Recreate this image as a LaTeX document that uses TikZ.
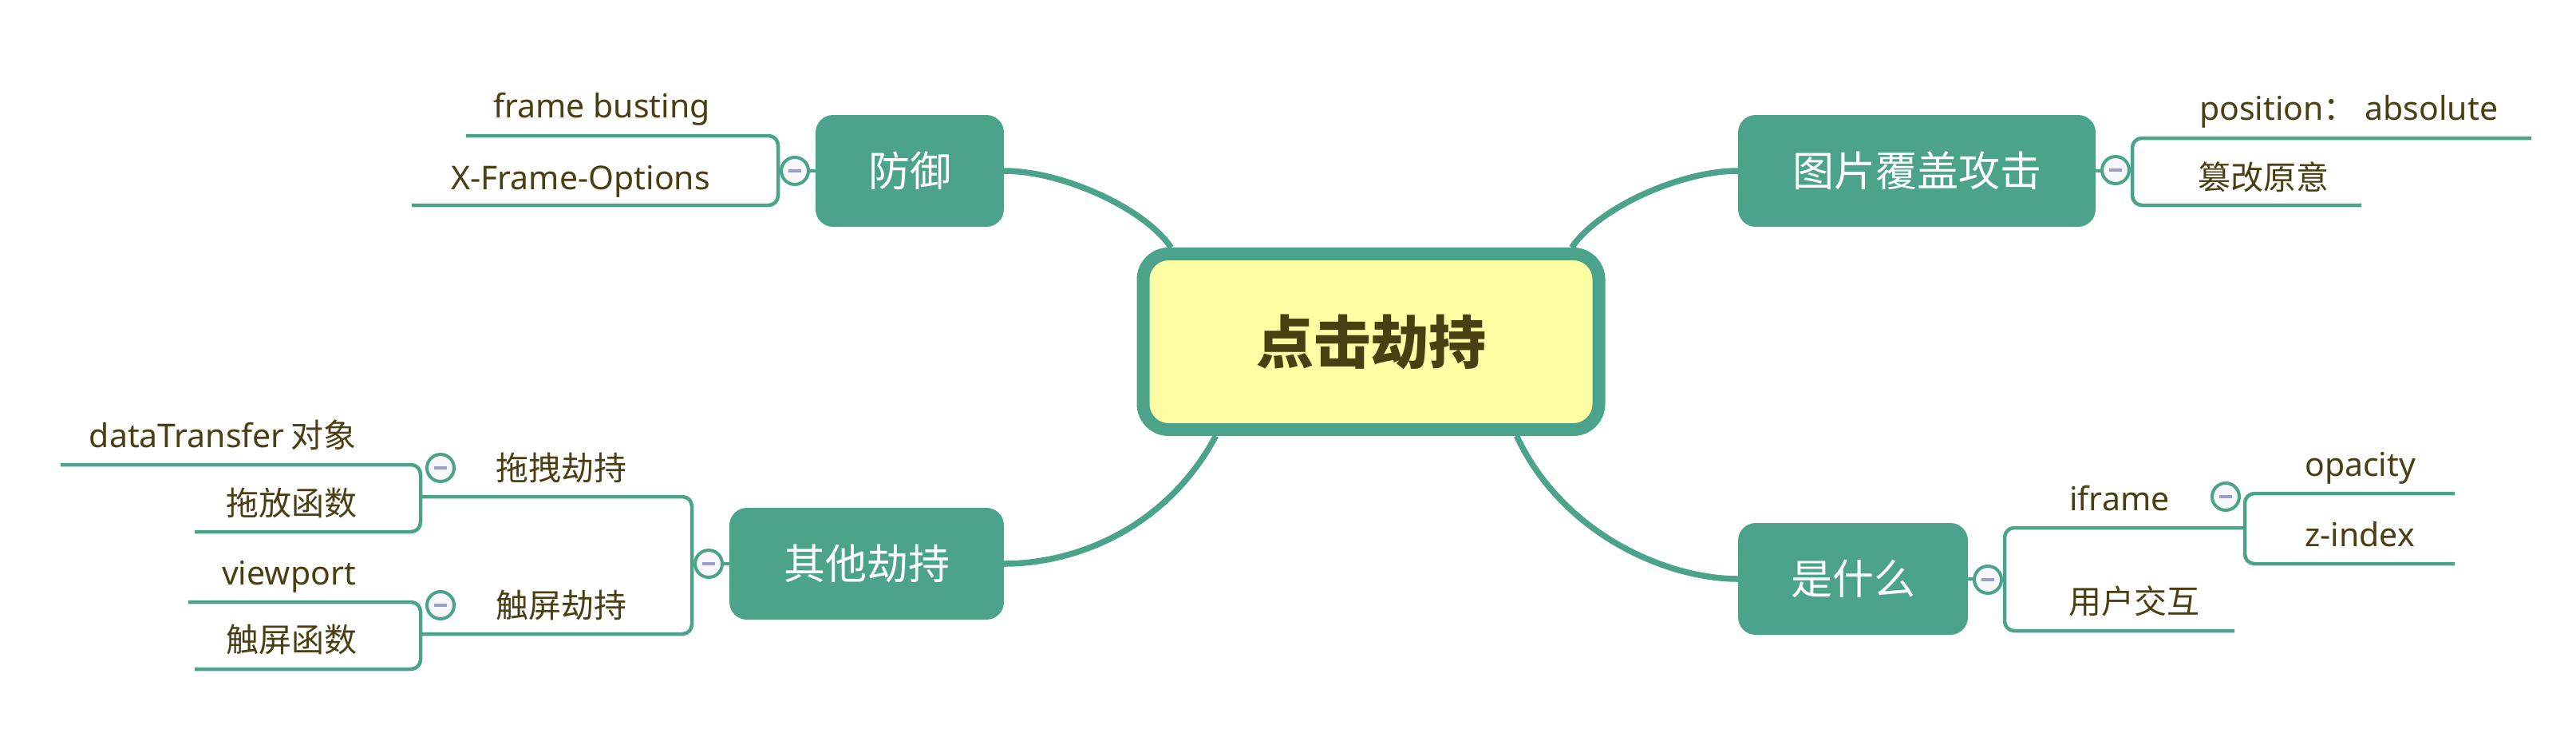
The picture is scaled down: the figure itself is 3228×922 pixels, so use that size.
\documentclass[tikz,border=0pt]{standalone}
\usepackage{fontspec}
\setmainfont{Noto Sans}
\newfontfamily\cjk{Noto Sans CJK SC}
\usetikzlibrary{backgrounds}
\definecolor{xgreen}{RGB}{74,163,138}
\definecolor{xtext}{RGB}{74,63,18}
\definecolor{xyellow}{RGB}{255,253,164}
\definecolor{xminus}{RGB}{156,160,200}
\definecolor{xcirc}{RGB}{247,247,247}
\tikzset{
  centerbox/.style={draw=xgreen, line width=16pt, fill=xyellow, rounded corners=32pt,
    minimum width=571pt, minimum height=220pt, inner sep=0pt, text=xtext,
    font=\cjk\bfseries\fontsize{72pt}{80pt}\selectfont},
  mainbox/.style={fill=xgreen, rounded corners=22pt, minimum height=140pt, inner sep=0pt,
    text=white, font=\cjk\fontsize{52pt}{60pt}\selectfont},
  leaf/.style={inner sep=0pt, text=xtext, font=\fontsize{41pt}{49pt}\selectfont},
  cjkleaf/.style={inner sep=0pt, text=xtext, font=\cjk\fontsize{41pt}{49pt}\selectfont},
  toggle/.style={circle, draw=xgreen, line width=4pt, fill=xcirc, minimum size=34pt, inner sep=0pt,
    path picture={\fill[xminus] ([xshift=-8pt,yshift=-2.2pt]path picture bounding box.center)
      rectangle ([xshift=8pt,yshift=2.2pt]path picture bounding box.center);}},
  branch/.style={draw=xgreen, line width=7.5pt},
  bracket/.style={draw=xgreen, line width=4.5pt, rounded corners=12pt},
  stub/.style={draw=xgreen, line width=4pt},
}
\begin{document}
\begin{tikzpicture}[x=1pt,y=-1pt]
\useasboundingbox (0,0) rectangle (3228,922);
% central and main topics
\node[centerbox] (center) at (1718,428) {点击劫持};
\node[mainbox, minimum width=236pt] (def) at (1140,214) {防御};
\node[mainbox, minimum width=448pt] (att) at (2402,214) {图片覆盖攻击};
\node[mainbox, minimum width=344pt] (oth) at (1086,706) {其他劫持};
\node[mainbox, minimum width=288pt] (what) at (2322,725) {是什么};
% collapse toggles
\node[toggle] (tdef) at (996,214) {};
\node[toggle] (tatt) at (2651,213) {};
\node[toggle] (toth) at (888,706) {};
\node[toggle] (twhat) at (2491,726) {};
\node[toggle] (tdrag) at (552,586) {};
\node[toggle] (ttouch) at (552,758) {};
\node[toggle] (tifr) at (2789,622) {};
% leaves
\node[leaf, anchor=base east] (fb) at (890,147) {frame busting};
\node[leaf, anchor=base east] (xfo) at (890,237) {X-Frame-Options};
\node[leaf, anchor=base west] (pos) at (2756,150) {position{\cjk ：} absolute};
\node[cjkleaf, anchor=base west] (tamp) at (2754,237) {篡改原意};
\node[cjkleaf, anchor=base west] (drag) at (621,601) {拖拽劫持};
\node[leaf, anchor=base east] (dt) at (447,560) {dataTransfer\hspace{8pt}{\cjk 对象}};
\node[cjkleaf, anchor=base east] (dropf) at (448,645) {拖放函数};
\node[cjkleaf, anchor=base west] (touch) at (621,773) {触屏劫持};
\node[leaf, anchor=base east] (vp) at (446,732) {viewport};
\node[cjkleaf, anchor=base east] (touchf) at (448,816) {触屏函数};
\node[leaf, anchor=base west] (ifr) at (2593,639) {iframe};
\node[leaf, anchor=base west] (opa) at (2888,596) {opacity};
\node[leaf, anchor=base west] (zidx) at (2888,684) {z-index};
\node[cjkleaf, anchor=base west] (ux) at (2592,768) {用户交互};
% bracket coordinates
\coordinate (defA) at (584,170);  \coordinate (defB) at (975,170);
\coordinate (defC) at (975,257);  \coordinate (defD) at (516,257);
\coordinate (attA) at (3172,173); \coordinate (attB) at (2672,173);
\coordinate (attC) at (2672,257); \coordinate (attD) at (2959,257);
\coordinate (othA) at (527,622);  \coordinate (othB) at (867,622);
\coordinate (othC) at (867,794);  \coordinate (othD) at (527,794);
\coordinate (drA) at (76,582);    \coordinate (drB) at (527,582);
\coordinate (drC) at (527,666);   \coordinate (drD) at (244,666);
\coordinate (toA) at (236,754);   \coordinate (toB) at (527,754);
\coordinate (toC) at (527,838);   \coordinate (toD) at (244,838);
\coordinate (whA) at (2813,661);  \coordinate (whB) at (2512,661);
\coordinate (whC) at (2512,790);  \coordinate (whD) at (2800,790);
\coordinate (ifA) at (3076,618);  \coordinate (ifB) at (2813,618);
\coordinate (ifC) at (2813,706);  \coordinate (ifD) at (3076,706);
\begin{scope}[on background layer]
  \draw[branch] (def.east) .. controls +(72,0) and +(-34,-50) .. ([xshift=43pt]center.north west);
  \draw[branch] (att.west) .. controls +(-72,0) and +(34,-50) .. ([xshift=-42pt]center.north east);
  \draw[branch] (oth.east) .. controls +(92,0) and +(-61,114) .. ([xshift=99pt]center.south west);
  \draw[branch] (what.west) .. controls +(-88,0) and +(58,124) .. ([xshift=-111pt]center.south east);
  \draw[stub] (tdef.center) -- (def.west);
  \draw[stub] (att.east) -- (tatt.center);
  \draw[stub] (toth.center) -- (oth.west);
  \draw[stub] (what.east) -- (twhat.center);
  \draw[bracket] (defA) -- (defB) -- (defC) -- (defD);
  \draw[bracket] (attA) -- (attB) -- (attC) -- (attD);
  \draw[bracket] (othA) -- (othB) -- (othC) -- (othD);
  \draw[bracket] (drA) -- (drB) -- (drC) -- (drD);
  \draw[bracket] (toA) -- (toB) -- (toC) -- (toD);
  \draw[bracket] (whA) -- (whB) -- (whC) -- (whD);
  \draw[bracket] (ifA) -- (ifB) -- (ifC) -- (ifD);
\end{scope}
\end{tikzpicture}
\end{document}
